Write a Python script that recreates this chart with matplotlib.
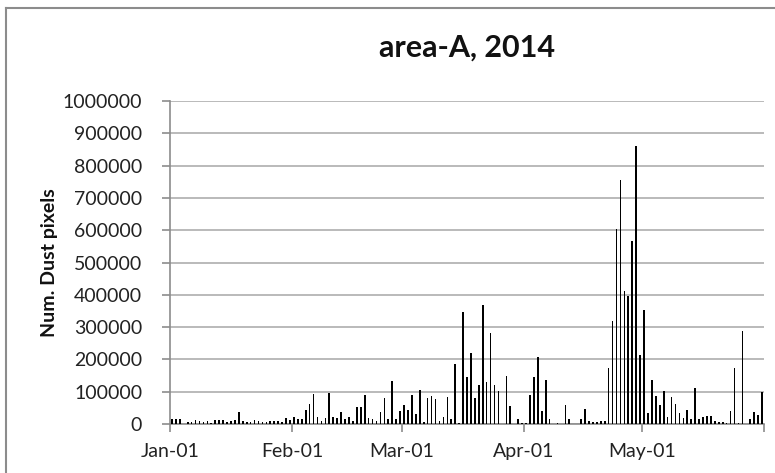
import matplotlib
matplotlib.use("Agg")
import matplotlib.pyplot as plt
from matplotlib.lines import Line2D
import numpy as np

title = "area-A, 2014"
ylabel = "Num. Dust pixels"
tick_days = [0, 31, 59, 90, 120, 151]
tick_labels = ["Jan-01", "Feb-01", "Mar-01", "Apr-01", "May-01", ""]

jan = [15000, 17000, 17000, 0, 7000, 5000, 12000, 9000, 5000, 8000, 3000,
       13000, 13000, 11000, 6000, 8000, 12000, 36000, 10000, 5000, 6000,
       12000, 8000, 6000, 7000, 8000, 9000, 10000, 6000, 18000, 12000]
feb = [22000, 15000, 17000, 43000, 62000, 94000, 22000, 8000, 20000, 95000,
       22000, 20000, 38000, 17000, 22000, 10000, 53000, 53000, 91000, 20000,
       14000, 9000, 36000, 80000, 17000, 132000, 14000, 40000]
mar = [58000, 43000, 91000, 30000, 106000, 7000, 82000, 87000, 76000, 10000,
       22000, 84000, 14000, 186000, 4000, 346000, 145000, 221000, 79000,
       120000, 367000, 129000, 282000, 122000, 103000, 0, 148000, 55000, 0,
       14000, 4000]
apr = [4000, 91000, 145000, 208000, 40000, 136000, 17000, 0, 4000, 0, 58000,
       17000, 0, 0, 14000, 45000, 10000, 6000, 5000, 8000, 10000, 173000,
       320000, 604000, 754000, 412000, 396000, 568000, 862000, 214000]
may = [352000, 33000, 135000, 88000, 58000, 103000, 22000, 84000, 61000,
       33000, 20000, 43000, 17000, 112000, 17000, 22000, 26000, 26000, 10000,
       6000, 6000, 4000, 40000, 172000, 4000, 288000, 0, 17000, 38000, 28000,
       99000]

values = jan + feb + mar + apr + may
days = np.arange(len(values)) + 0.5

W, H = 775, 473
fig = plt.figure(figsize=(W / 100, H / 100), dpi=100)
fig.patch.set_facecolor("white")

ax = fig.add_axes([170 / W, 1 - 424 / H, (764 - 170) / W, (424 - 101) / H])
ax.bar(days, values, width=0.42, color="black", edgecolor="none", zorder=3)

ax.set_xlim(0, 151)
ax.set_ylim(0, 1000000)
ax.set_yticks(np.arange(0, 1000001, 100000))
ax.set_yticklabels([str(v) for v in range(0, 1000001, 100000)])
ax.set_xticks(tick_days)
ax.set_xticklabels(tick_labels)

ax.grid(axis="y", color="#b4b4b4", linewidth=1.3, zorder=0)
ax.set_axisbelow(True)
for s in ["top", "right"]:
    ax.spines[s].set_visible(False)
for s in ["left", "bottom"]:
    ax.spines[s].set_color("#8c8c8c")
    ax.spines[s].set_linewidth(1.2)

font = ["Lato", "DejaVu Sans"]
ax.tick_params(axis="both", colors="#8c8c8c", length=6, width=1.2,
               labelcolor="#222222", labelsize=14)
ax.tick_params(axis="y", pad=14)
ax.tick_params(axis="x", pad=8)
for lab in ax.get_xticklabels() + ax.get_yticklabels():
    lab.set_family(font)

fig.text(50 / W, 1 - 263 / H, ylabel, rotation=90, ha="center", va="center",
         fontsize=14, fontweight="bold", family=font, color="#111111")
fig.text(467 / W, 1 - 48 / H, title, ha="center", va="center",
         fontsize=22, fontweight="bold", family=font, color="#111111")

# chart border (left and top edges visible)
fig.add_artist(Line2D([6 / W, 6 / W], [0, 1 - 8 / H], transform=fig.transFigure,
                      color="#8c8c8c", linewidth=1.5))
fig.add_artist(Line2D([6 / W, 1], [1 - 8 / H, 1 - 8 / H], transform=fig.transFigure,
                      color="#8c8c8c", linewidth=1.5))

fig.savefig("out.png", dpi=100, facecolor="white")
